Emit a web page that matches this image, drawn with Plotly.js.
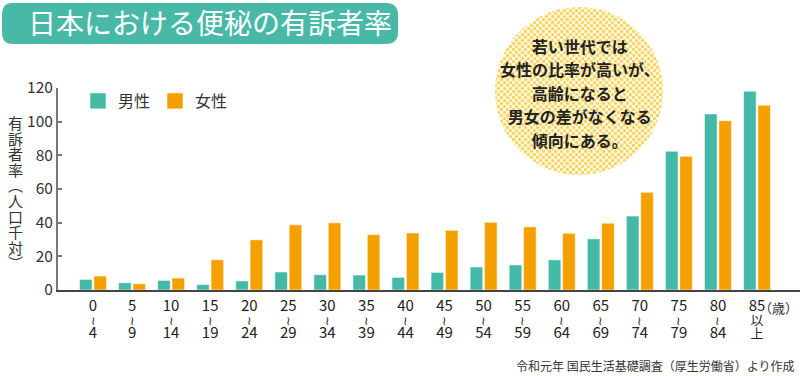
<!DOCTYPE html>
<html><head><meta charset="utf-8">
<script src="https://cdn.plot.ly/plotly-3.0.1.min.js"></script>
<style>html,body{margin:0;padding:0;background:#fff}#chart{width:800px;height:376px}</style>
</head><body><div id="chart"></div>
<script>
const categories = ['0-4','5-9','10-14','15-19','20-24','25-29','30-34','35-39','40-44','45-49','50-54','55-59','60-64','65-69','70-74','75-79','80-84','85+'];
const tickTop = ['0','5','10','15','20','25','30','35','40','45','50','55','60','65','70','75','80','85'];
const tickMid = ['≀','≀','≀','≀','≀','≀','≀','≀','≀','≀','≀','≀','≀','≀','≀','≀','≀','以'];
const tickBottom = ['4','9','14','19','24','29','34','39','44','49','54','59','64','69','74','79','84','上'];
const male = [6.3,4.3,5.7,3.2,5.4,10.7,9.1,8.9,7.5,10.5,13.7,14.9,17.9,30.4,43.9,82.4,104.6,118.1];
const female = [8.3,3.7,7.1,18.0,29.8,38.7,39.9,32.9,33.9,35.5,40.3,37.5,33.7,39.7,58.0,79.4,100.6,109.8];
const seriesNames = ['男性','女性'];
const titleText = '日本における便秘の有訴者率';
const yTitle = '有訴者率︵人口千対︶';
const noteLines = ['若い世代では','女性の比率が高いが、','高齢になると','男女の差がなくなる','傾向にある。'];
const unitText = '（歳）';
const sourceText = '令和元年 国民生活基礎調査（厚生労働省）より作成';

const TEAL = '#45B9A7', ORANGE = '#F4A100';
const FONT = '"Noto Sans CJK JP", "Noto Sans", sans-serif';
const big = s => '<span style="font-size:15px">' + s + '</span>';
const cjk = s => '<span style="font-size:13px">' + s + '</span>';
const wave = s => '<span style="font-size:12px">' + s + '</span>';
const ticktext = tickTop.map((t,i) => big(t) + '<br>' + (tickMid[i]==='≀' ? wave(tickMid[i]) : cjk(tickMid[i])) + '<br>' + (/^\d+$/.test(tickBottom[i]) ? big(tickBottom[i]) : cjk(tickBottom[i])));

const traces = [
  {type:'bar', x:categories, y:male, name:seriesNames[0], marker:{color:TEAL, line:{color:'rgba(255,255,255,0.55)', width:1}}, showlegend:false, hoverinfo:'skip'},
  {type:'bar', x:categories, y:female, name:seriesNames[1], marker:{color:ORANGE, line:{color:'rgba(255,255,255,0.55)', width:1}}, showlegend:false, hoverinfo:'skip'},
  {type:'scatter', mode:'markers', x:[null], y:[null], name:seriesNames[0], marker:{symbol:'square', size:16, color:TEAL, line:{color:'rgba(255,255,255,0.55)', width:1}}},
  {type:'scatter', mode:'markers', x:[null], y:[null], name:seriesNames[1], marker:{symbol:'square', size:16, color:ORANGE, line:{color:'rgba(255,255,255,0.55)', width:1}}}
];

const svg = "<svg xmlns='http://www.w3.org/2000/svg' width='170' height='170'><defs><pattern id='p' width='6' height='6' patternUnits='userSpaceOnUse'><rect width='6' height='6' fill='#FFF7DA'/><circle cx='1.5' cy='1.5' r='1.55' fill='#F8D25A'/><circle cx='4.5' cy='4.5' r='1.55' fill='#F8D25A'/></pattern></defs><circle cx='85' cy='85' r='84' fill='url(#p)'/></svg>";
const svgUri = 'data:image/svg+xml;charset=utf-8,' + encodeURIComponent(svg);

const W = 742, H = 202;
const px = x => (x - 58) / W;
const py = y => (290 - y) / H;

const layout = {
  width:800, height:376,
  margin:{l:58, r:0, t:88, b:86, pad:0},
  paper_bgcolor:'#fff', plot_bgcolor:'rgba(0,0,0,0)',
  font:{family:FONT, color:'#222'},
  title:{text:titleText, font:{family:FONT, size:28, color:'#fff'}, xref:'container', yref:'container', x:28/800, xanchor:'left', y:1-24/376, yanchor:'middle'},
  barmode:'group', bargap:0.265, bargroupgap:0.12,
  xaxis:{type:'category', range:[-0.896, 18.1], showline:true, linecolor:'#444', linewidth:2, ticks:'', tickvals:categories, ticktext:ticktext, ticklabelstandoff:6, tickfont:{size:10.6, color:'#222', family:FONT}, showgrid:false, zeroline:false, fixedrange:true},
  yaxis:{range:[0,120], tickvals:[0,20,40,60,80,100,120], showline:true, linecolor:'#777', linewidth:2, ticks:'inside', ticklen:4, tickwidth:2, tickcolor:'#777', tickfont:{size:15.5, color:'#333', family:FONT}, showgrid:false, zeroline:false, fixedrange:true},
  legend:{orientation:'h', x:px(78), xanchor:'left', y:py(101), yanchor:'middle', font:{size:16, color:'#333', family:FONT}, bgcolor:'rgba(0,0,0,0)', itemsizing:'trace', traceorder:'normal'},
  shapes:[
    {type:'path', xref:'paper', yref:'paper', xsizemode:'pixel', ysizemode:'pixel', xanchor:0, yanchor:1,
     path:'M -46,85 H 328 Q 340,85 340,73 V 56 Q 340,44 328,44 H -46 Q -56,44 -56,56 V 73 Q -56,85 -46,85 Z',
     fillcolor:'#48B9A7', line:{width:0}, layer:'below'}
  ],
  images:[{source:svgUri, xref:'paper', yref:'paper', x:px(494), y:py(6), sizex:170/W, sizey:170/H, sizing:'stretch', xanchor:'left', yanchor:'top', layer:'below'}],
  annotations:[
    {text:yTitle.split('').map(c => '<span style="font-size:15px">'+c+'</span>').join('<br>'), xref:'paper', yref:'paper', x:px(15), y:py(192), xanchor:'center', yanchor:'middle', showarrow:false, font:{size:12, color:'#333', family:FONT}},
    {text:noteLines.map(l => '<span style="font-size:16px"><b>'+l+'</b></span>').join('<br>'), xref:'paper', yref:'paper', x:px(580), y:py(93), xanchor:'center', yanchor:'middle', showarrow:false, font:{size:18, color:'#222', family:FONT}},
    {text:unitText, xref:'paper', yref:'paper', x:px(800), y:py(307), xanchor:'right', yanchor:'middle', showarrow:false, font:{size:13, color:'#333', family:FONT}},
    {text:sourceText, xref:'paper', yref:'paper', x:px(796), y:py(365), xanchor:'right', yanchor:'middle', showarrow:false, font:{size:12, color:'#333', family:FONT}}
  ]
};

Plotly.newPlot('chart', traces, layout, {displayModeBar:false, staticPlot:true});
</script>
</body></html>
